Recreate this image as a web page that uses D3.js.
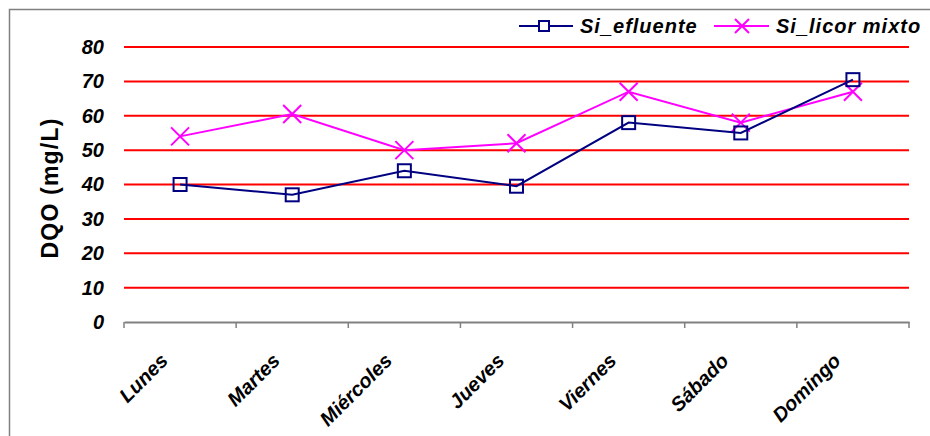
<!DOCTYPE html>
<html>
<head>
<meta charset="utf-8">
<script src="https://cdn.jsdelivr.net/npm/d3@7"></script>
<style>
  html, body { margin: 0; padding: 0; background: #fff; }
  svg { display: block; font-family: Arial, "Liberation Sans", sans-serif; }
</style>
</head>
<body>
<svg id="chart" width="930" height="436"></svg>
<script>
// Weekly DQO readings, effluent vs. mixed liquor
const days = ["Lunes", "Martes", "Miércoles", "Jueves", "Viernes", "Sábado", "Domingo"];
const efluente = [40, 37, 44, 39.5, 58, 55, 70.5];
const licorMixto = [54, 60.5, 50, 52, 67, 58, 67];
const yTicks = [0, 10, 20, 30, 40, 50, 60, 70, 80];
const seriesNames = ["Si_efluente", "Si_licor mixto"];

const FONT = "Arial, 'Liberation Sans', sans-serif";
const svg = d3.select("#chart");
const plot = { left: 124, right: 909, top: 47, bottom: 322 };

const x = d3.scaleBand().domain(days).range([plot.left, plot.right]);
const y = d3.scaleLinear().domain([0, 80]).range([plot.bottom, plot.top]);

// outer frame
svg.append("rect")
  .attr("x", 9.5).attr("y", 9.5).attr("width", 940).attr("height", 440)
  .attr("fill", "none").attr("stroke", "#808080").attr("stroke-width", 1.5);

// horizontal gridlines
svg.append("g").selectAll("line").data(yTicks.filter(d => d > 0)).join("line")
  .attr("x1", plot.left).attr("x2", plot.right)
  .attr("y1", d => y(d)).attr("y2", d => y(d))
  .attr("stroke", "#ff0000").attr("stroke-width", 2);

// y tick labels
const yAxis = svg.append("g").attr("transform", `translate(${plot.left},0)`)
  .call(d3.axisLeft(y).tickValues(yTicks).tickSize(0).tickPadding(20));
yAxis.select(".domain").remove();
yAxis.selectAll("text")
  .attr("font-size", 20).attr("font-weight", "bold").attr("font-style", "italic")
  .attr("fill", "#000").attr("font-family", FONT);

// x axis
const xAxis = svg.append("g").attr("transform", `translate(0,${plot.bottom})`)
  .call(d3.axisBottom(x).tickSize(0));
xAxis.select(".domain").attr("stroke", "#808080").attr("stroke-width", 2);
// tick marks at category boundaries
xAxis.selectAll(".bound").data(days.concat(["_end"])).join("line")
  .attr("class", "bound")
  .attr("x1", (d, i) => i < days.length ? x(d) : plot.right)
  .attr("x2", (d, i) => i < days.length ? x(d) : plot.right)
  .attr("y1", 0).attr("y2", 6)
  .attr("stroke", "#808080").attr("stroke-width", 1.5);
xAxis.selectAll(".tick text")
  .attr("font-size", 20).attr("font-weight", "bold").attr("font-style", "italic")
  .attr("fill", "#000").attr("font-family", FONT)
  .attr("text-anchor", "end")
  .attr("dy", 0).attr("y", 0)
  .attr("transform", "translate(-11,40) rotate(-45)");

// y axis title
svg.append("text")
  .attr("transform", "translate(58,188) rotate(-90)")
  .attr("text-anchor", "middle")
  .attr("font-size", 23).attr("font-weight", "bold")
  .attr("letter-spacing", 1.2)
  .attr("font-family", FONT)
  .text("DQO (mg/L)");

const cx = d => x(d) + x.bandwidth() / 2;
const line = d3.line().x((d, i) => cx(days[i])).y(d => y(d));

// Si_licor mixto series
svg.append("path").datum(licorMixto)
  .attr("d", line).attr("fill", "none")
  .attr("stroke", "#ff00ff").attr("stroke-width", 2);
const crossPath = s => `M${-s},${-s}L${s},${s}M${-s},${s}L${s},${-s}`;
svg.append("g").selectAll("path").data(licorMixto).join("path")
  .attr("transform", (d, i) => `translate(${cx(days[i])},${y(d)})`)
  .attr("d", crossPath(9))
  .attr("stroke", "#ff00ff").attr("stroke-width", 2).attr("fill", "none");

// Si_efluente series
svg.append("path").datum(efluente)
  .attr("d", line).attr("fill", "none")
  .attr("stroke", "#000080").attr("stroke-width", 2);
svg.append("g").selectAll("rect").data(efluente).join("rect")
  .attr("x", (d, i) => cx(days[i]) - 6.5).attr("y", d => y(d) - 6.5)
  .attr("width", 13).attr("height", 13)
  .attr("fill", "none").attr("stroke", "#000080").attr("stroke-width", 2);

// legend
const legend = svg.append("g");
const lg1 = legend.append("g").attr("transform", "translate(519,26)");
lg1.append("line").attr("x1", 0).attr("x2", 54).attr("stroke", "#000080").attr("stroke-width", 2);
lg1.append("rect").attr("x", 20).attr("y", -5).attr("width", 10).attr("height", 10)
  .attr("fill", "#fff").attr("stroke", "#000080").attr("stroke-width", 2);
lg1.append("text").attr("x", 61).attr("y", 7).text(seriesNames[0]);

const lg2 = legend.append("g").attr("transform", "translate(714,26)");
lg2.append("line").attr("x1", 0).attr("x2", 55).attr("stroke", "#ff00ff").attr("stroke-width", 2);
lg2.append("path").attr("transform", "translate(28,0)").attr("d", crossPath(7))
  .attr("stroke", "#ff00ff").attr("stroke-width", 2);
lg2.append("text").attr("x", 62).attr("y", 7).text(seriesNames[1]);

legend.selectAll("text")
  .attr("font-size", 20).attr("font-weight", "bold").attr("font-style", "italic")
  .attr("letter-spacing", 1)
  .attr("font-family", FONT);
</script>
</body>
</html>
